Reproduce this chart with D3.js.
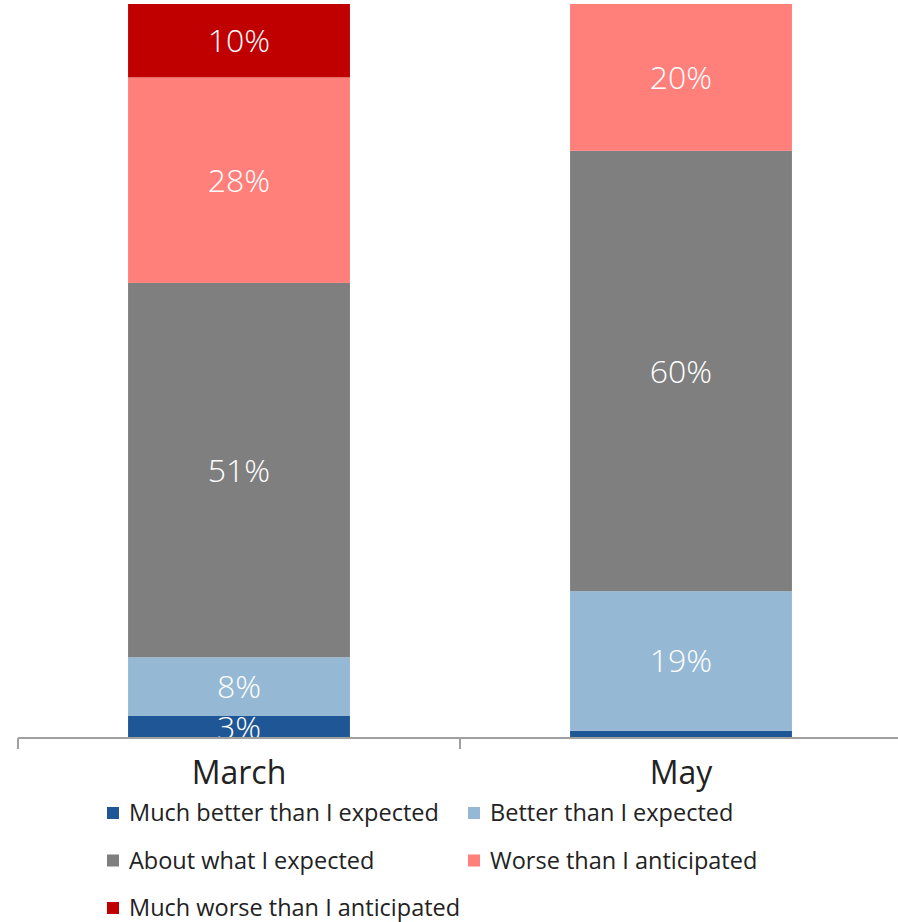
<!DOCTYPE html>
<html>
<head>
<meta charset="utf-8">
<script src="https://cdn.jsdelivr.net/npm/d3@7"></script>
<style>
  body { margin: 0; background: #fff; }
  svg { font-family: "Open Sans", Lato, sans-serif; }
</style>
</head>
<body>
<svg id="chart" width="898" height="922"></svg>
<script>
// data
var categories = ["March", "May"];
var keys = ["Much better than I expected", "Better than I expected", "About what I expected",
            "Worse than I anticipated", "Much worse than I anticipated"];
var muchBetter = [3, 1];
var better = [8, 19];
var about = [51, 60];
var worse = [28, 20];
var muchWorse = [10, 0];
var showLabel = [[true, false], [true, true], [true, true], [true, true], [true, false]];
var colors = ["#1F5796", "#95B9D4", "#7F7F7F", "#FF7F7B", "#C00000"];

var data = categories.map(function(c, i) {
  return {
    cat: c,
    "Much better than I expected": muchBetter[i],
    "Better than I expected": better[i],
    "About what I expected": about[i],
    "Worse than I anticipated": worse[i],
    "Much worse than I anticipated": muchWorse[i]
  };
});

var svg = d3.select("#chart"),
    margin = {top: 4, left: 18, right: -4, bottom: 184},
    width = 898 - margin.left - margin.right,
    height = 922 - margin.top - margin.bottom;

var g = svg.append("g").attr("transform", "translate(" + margin.left + "," + margin.top + ")");

var x = d3.scaleBand().domain(categories).range([0, width]).paddingInner(0).paddingOuter(0);
var y = d3.scaleLinear().domain([0, 100]).range([height, 0]);
var z = d3.scaleOrdinal().domain(keys).range(colors);

var barW = x.bandwidth() * 0.502;

var series = d3.stack().keys(keys)(data);

var layer = g.selectAll(".layer")
  .data(series)
  .enter().append("g")
    .attr("class", "layer")
    .attr("fill", function(d) { return z(d.key); });

layer.selectAll("rect")
  .data(function(d) { return d; })
  .enter().append("rect")
    .attr("x", function(d) { return x(d.data.cat) + (x.bandwidth() - barW) / 2; })
    .attr("y", function(d) { return y(d[1]); })
    .attr("height", function(d) { return y(d[0]) - y(d[1]); })
    .attr("width", barW);

// value labels
layer.each(function(s, si) {
  d3.select(this).selectAll("text")
    .data(s.filter(function(d, i) { return showLabel[si][i]; }))
    .enter().append("text")
      .attr("x", function(d) { return x(d.data.cat) + x.bandwidth() / 2; })
      .attr("y", function(d) { return y((d[0] + d[1]) / 2); })
      .attr("dy", "0.36em")
      .attr("text-anchor", "middle")
      .attr("fill", "#fff")
      .attr("font-size", 32)
      .attr("font-weight", 300)
      .text(function(d) { return (d[1] - d[0]) + "%"; });
});

// x axis
var axis = g.append("g").attr("transform", "translate(0," + height + ")");
axis.append("line")
  .attr("x1", 0).attr("x2", width)
  .attr("stroke", "#a0a0a0").attr("stroke-width", 2);
axis.selectAll(".tick")
  .data([0, x.bandwidth(), width])
  .enter().append("line")
    .attr("x1", function(d) { return d; }).attr("x2", function(d) { return d; })
    .attr("y1", 0).attr("y2", 11)
    .attr("stroke", "#a0a0a0").attr("stroke-width", 2);
axis.selectAll(".cat")
  .data(categories)
  .enter().append("text")
    .attr("x", function(d) { return x(d) + x.bandwidth() / 2; })
    .attr("y", 46)
    .attr("text-anchor", "middle")
    .attr("font-size", 32)
    .attr("fill", "#222")
    .text(function(d) { return d; });

// legend
var legend = svg.append("g")
  .selectAll("g")
  .data(keys)
  .enter().append("g")
    .attr("transform", function(d, i) {
      return "translate(" + (107 + (i % 2) * 361) + "," + (813 + Math.floor(i / 2) * 47.5) + ")";
    });

legend.append("rect")
  .attr("x", 0).attr("y", -6)
  .attr("width", 12).attr("height", 12)
  .attr("fill", z);

legend.append("text")
  .attr("x", 22)
  .attr("dy", "0.35em")
  .attr("font-size", 23.5)
  .attr("fill", "#222")
  .text(function(d) { return d; });
</script>
</body>
</html>
